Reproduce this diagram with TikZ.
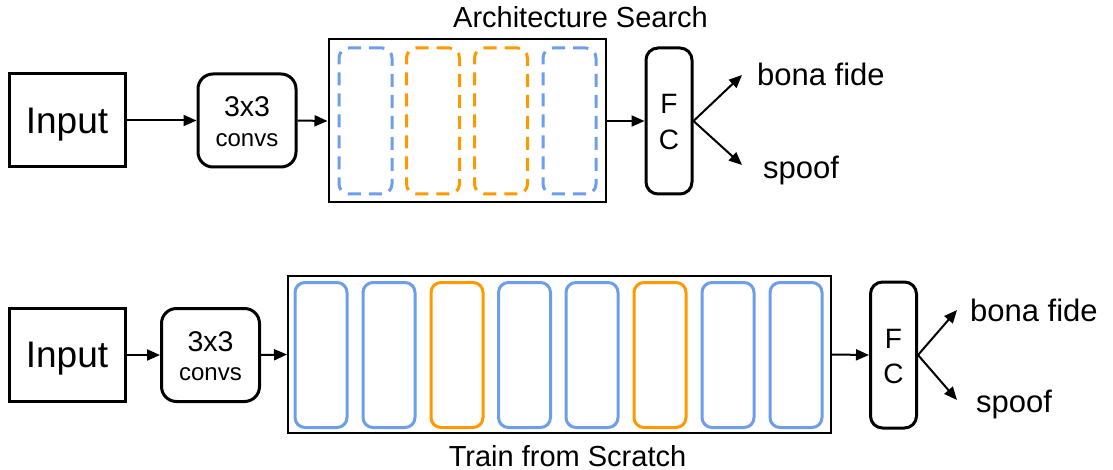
\documentclass[tikz,border=0pt]{standalone}
\usepackage{fontspec}
\setmainfont{Liberation Sans}
\usetikzlibrary{arrows.meta}
\definecolor{cblue}{HTML}{6D9EEB}
\definecolor{corange}{HTML}{FF9900}
\begin{document}
\begin{tikzpicture}[x=1pt,y=-1pt,
  inbox/.style={draw, line width=3pt, minimum width=116pt, minimum height=93pt, inner sep=0pt, text depth=0pt, font=\fontsize{37}{40}\selectfont},
  convbox/.style={draw, line width=3pt, rounded corners=15pt, minimum width=98pt, minimum height=93pt, inner sep=0pt},
  fcbox/.style={draw, line width=3pt, rounded corners=12pt, minimum width=46pt, minimum height=146pt, inner sep=0pt},
  stackbox/.style={draw, line width=2pt, inner sep=0pt},
  cellsearch/.style={draw=#1, line width=3pt, rounded corners=10pt, dash pattern=on 13pt off 8pt, minimum width=53pt, minimum height=146pt, inner sep=0pt},
  celltrain/.style={draw=#1, line width=3pt, rounded corners=10pt, minimum width=52pt, minimum height=145pt, inner sep=0pt},
  arr/.style={line width=2pt, -{Triangle[length=13pt,width=11pt]}},
  txt/.style={inner sep=0pt},
  tbig/.style={font=\fontsize{28.5}{30}\selectfont},
  tsmall/.style={font=\fontsize{24}{26}\selectfont},
  tfc/.style={font=\fontsize{28}{30}\selectfont},
  tlab/.style={font=\fontsize{31}{34}\selectfont},
  ttitle/.style={font=\fontsize{29}{32}\selectfont},
]
\useasboundingbox (0,0) rectangle (1113,470);

% ---------- top row: Architecture Search ----------
\node[inbox] (in1) at (67,120.5) {Input};
\node[convbox] (cv1) at (247,120.5) {};
\node[txt, tbig, anchor=base] (cv1a) at (247,117) {3x3};
\node[txt, tsmall, anchor=base] (cv1b) at (247,147) {convs};
\node[stackbox, minimum width=277pt, minimum height=163pt] (sb) at (467,121) {};
\node[cellsearch=cblue] (s1) at (365.5,121) {};
\node[cellsearch=corange] (s2) at (433,121) {};
\node[cellsearch=corange] (s3) at (501,121) {};
\node[cellsearch=cblue] (s4) at (569.5,121) {};
\node[txt, ttitle, anchor=base] (sbt) at (580.5,28) {Architecture Search};
\node[fcbox] (fc1) at (669,121) {};
\node[txt, tfc, anchor=base] (fc1f) at (669,113.5) {F};
\node[txt, tfc, anchor=base] (fc1c) at (669,149.5) {C};
\coordinate (b1) at (742,75);
\coordinate (p1) at (742,165);
\node[txt, tlab, anchor=base west] (bona1) at (757,86) {bona fide};
\node[txt, tlab, anchor=base west] (spoof1) at (763,179) {spoof};

\draw[arr] (in1.east) -- (cv1.west);
\draw[arr] (cv1.east) -- (sb.west);
\draw[arr] (sb.east) -- (fc1.west);
\draw[arr] (fc1.east) -- (b1);
\draw[arr] (fc1.east) -- (p1);

% ---------- bottom row: Train from Scratch ----------
\node[inbox] (in2) at (67,355) {Input};
\node[convbox] (cv2) at (210.5,355) {};
\node[txt, tbig, anchor=base] (cv2a) at (210.5,351) {3x3};
\node[txt, tsmall, anchor=base] (cv2b) at (210.5,380) {convs};
\node[stackbox, minimum width=543pt, minimum height=157pt] (tb) at (559.5,354.5) {};
\node[celltrain=cblue] (t1) at (321,355) {};
\node[celltrain=cblue] (t2) at (389,355) {};
\node[celltrain=corange] (t3) at (457,355) {};
\node[celltrain=cblue] (t4) at (524.5,355) {};
\node[celltrain=cblue] (t5) at (592,355) {};
\node[celltrain=corange] (t6) at (660,355) {};
\node[celltrain=cblue] (t7) at (728,355) {};
\node[celltrain=cblue] (t8) at (796,355) {};
\node[txt, ttitle, anchor=base] (tbt) at (567.5,466) {Train from Scratch};
\node[fcbox] (fc2) at (893.5,355) {};
\node[txt, tfc, anchor=base] (fc2f) at (893.5,348.5) {F};
\node[txt, tfc, anchor=base] (fc2c) at (893.5,383) {C};
\coordinate (b2) at (957,310);
\coordinate (p2) at (957,400);
\node[txt, tlab, anchor=base west] (bona2) at (970,321) {bona fide};
\node[txt, tlab, anchor=base west] (spoof2) at (976,412) {spoof};

\draw[arr] (in2.east) -- (cv2.west);
\draw[arr] (cv2.east) -- (tb.west);
\draw[arr] (tb.east) -- (fc2.west);
\draw[arr] (fc2.east) -- (b2);
\draw[arr] (fc2.east) -- (p2);
\end{tikzpicture}
\end{document}
